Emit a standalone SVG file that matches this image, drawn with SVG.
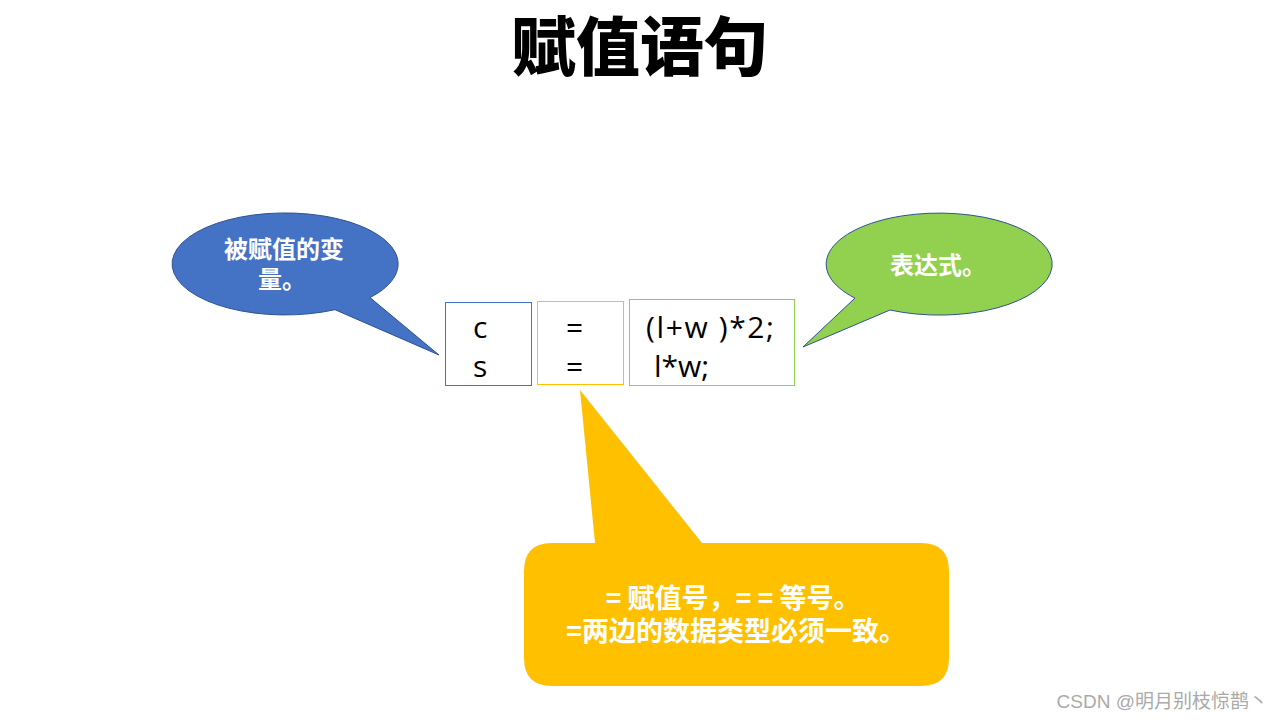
<svg xmlns="http://www.w3.org/2000/svg" width="1280" height="720" viewBox="0 0 1280 720">
<style>
.cjk{font-family:"Noto Sans CJK SC","Noto Sans",sans-serif;font-weight:bold;fill:#fff;text-anchor:middle}
.code{font-family:"Open Sans","Noto Sans",sans-serif;font-size:30px;fill:#000}
.box{fill:#fff;stroke-width:1}
</style>
<rect width="1280" height="720" fill="#fff"/>
<text x="640" y="70" font-family="Noto Sans CJK SC,sans-serif" font-weight="900" font-size="64" text-anchor="middle" fill="#000">赋值语句</text>
<g id="connectors"></g>
<g id="callout-var">
<path d="M335,309.7 A113,51 0 1 1 370,297.6 L439,355 Z" fill="#4472C4" stroke="#2F528F" stroke-width="1"/>
<text class="cjk" font-size="24" x="284" y="258">被赋值的变</text>
<text class="cjk" font-size="24" x="282" y="288">量。</text>
</g>
<g id="callout-expr">
<path d="M855,298.1 A113,51 0 1 1 890,310 L803,347 Z" fill="#92D050" stroke="#2F528F" stroke-width="1"/>
<text class="cjk" font-size="24" x="938" y="274">表达式。</text>
</g>
<g id="callout-eq">
<path d="M552,543 L595,543 L580,390 L702,543 L921,543 Q949,543 949,571 L949,658 Q949,686 921,686 L552,686 Q524,686 524,658 L524,571 Q524,543 552,543 Z" fill="#FFC000"/>
<text class="cjk" font-size="27" x="733" y="608">= 赋值号，= = 等号。</text>
<text class="cjk" font-size="27" x="736" y="641">=两边的数据类型必须一致。</text>
</g>
<g id="box-var">
<rect class="box" x="445.5" y="302.5" width="86" height="83" stroke="#4472C4"/>
<text class="code" x="473" y="338">c</text>
<text class="code" x="473" y="377">s</text>
</g>
<g id="box-eq">
<rect class="box" x="537.5" y="301.5" width="86" height="83" stroke="#FFC000"/>
<text class="code" x="566" y="338">=</text>
<text class="code" x="566" y="377">=</text>
</g>
<g id="box-expr">
<rect class="box" x="629.5" y="299.5" width="165" height="86" stroke="#92D050"/>
<text class="code" x="646" y="338" textLength="128" lengthAdjust="spacing">(l+w )*2;</text>
<text class="code" x="654" y="377">l*w;</text>
</g>
<text x="1268" y="708" font-family="Liberation Sans,Noto Sans CJK SC,sans-serif" font-size="19" fill="#aaa" text-anchor="end">CSDN @明月别枝惊鹊丶</text>
</svg>
